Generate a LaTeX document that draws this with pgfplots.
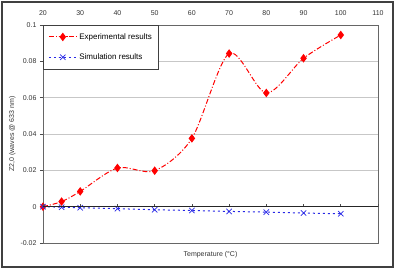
\documentclass[border=0pt]{standalone}
\usepackage{fontspec}
\setmainfont{Liberation Sans}
\usepackage{pgfplots}
\pgfplotsset{compat=1.18}

\definecolor{exred}{RGB}{255,0,0}
\definecolor{simblue}{RGB}{40,40,230}

\begin{document}
\begin{tikzpicture}[x=1pt,y=1pt]
\useasboundingbox (0,0) rectangle (395,269);
% chart area frame
\draw[line width=1.2pt, black!75] (2,2) rectangle (393,267);

\begin{axis}[
  at={(43pt,26pt)}, anchor=south west,
  scale only axis, width=335pt, height=218pt,
  xmin=20, xmax=110, ymin=-0.02, ymax=0.1,
  xtick={20,30,40,50,60,70,80,90,100,110},
  xticklabel pos=right,
  x tick style={draw=none},
  xticklabel style={yshift=3pt},
  ytick={-0.02,0,0.02,0.04,0.06,0.08,0.1},
  yticklabels={-0.02,0,0.02,0.04,0.06,0.08,0.1},
  ytick pos=left,
  tick align=outside,
  major tick length=3pt,
  y tick style={black!70, line width=0.6pt},
  ymajorgrids,
  grid style={black!22, line width=0.8pt},
  axis line style={black!60, line width=0.8pt},
  tick label style={font=\fontsize{7}{8}\selectfont, text=black!80},
  /pgf/number format/assume math mode=true,
  xlabel={Temperature (°C)},
  xlabel style={at={(axis description cs:0.5,0)}, anchor=north, yshift=-5pt,
                font=\fontsize{7}{8}\selectfont, text=black!80},
  ylabel={Z2,0 (waves @ 633 nm)},
  ylabel style={font=\fontsize{7}{8}\selectfont, text=black!80, yshift=-2pt},
  legend style={at={(0,1)}, anchor=north west, draw=black!75, line width=0.6pt,
                font=\fontsize{8}{9}\selectfont, row sep=9pt,
                inner xsep=5pt, inner ysep=6pt},
  legend cell align=left,
  legend image code/.code={
    \draw[#1, mark repeat=2, mark phase=2]
      plot coordinates {(0pt,0pt) (14pt,0pt) (28pt,0pt)};
  },
  clip=false,
]
% experimental results
\addplot[exred, line width=1pt, dash pattern=on 5pt off 2pt on 1pt off 2pt,
  smooth, tension=0.5,
  mark=diamond*, mark size=3.5pt, mark options={solid, fill=exred, draw=exred}]
  coordinates {
  (20,0) (25,0.0028) (30,0.0084) (40,0.0213) (50,0.0198)
  (60,0.0376) (70,0.0843) (80,0.0626) (90,0.0817) (100,0.0945)
  };
\addlegendentry{Experimental results}

% simulation results
\addplot[simblue, line width=1pt, dash pattern=on 2pt off 3pt,
  smooth, tension=0.5,
  mark=x, mark size=3.8pt, mark options={solid, line width=0.7pt}]
  coordinates {
  (20,0) (25,-0.0003) (30,-0.0006) (40,-0.0011) (50,-0.0017)
  (60,-0.0021) (70,-0.0026) (80,-0.0030) (90,-0.0035) (100,-0.0039)
  };
\addlegendentry{Simulation results}
\end{axis}

% horizontal axis line at zero with its tick marks
\begin{axis}[
  at={(43pt,26pt)}, anchor=south west,
  scale only axis, width=335pt, height=218pt,
  xmin=20, xmax=110, ymin=-0.02, ymax=0.1,
  axis x line=middle, axis y line=none,
  axis line style={-, black!85, line width=0.9pt},
  xtick={20,30,40,50,60,70,80,90,100,110},
  xticklabels={},
  tick align=inside,
  major tick length=2.5pt,
  x tick style={black!70, line width=0.6pt},
]
\end{axis}
\end{tikzpicture}
\end{document}
